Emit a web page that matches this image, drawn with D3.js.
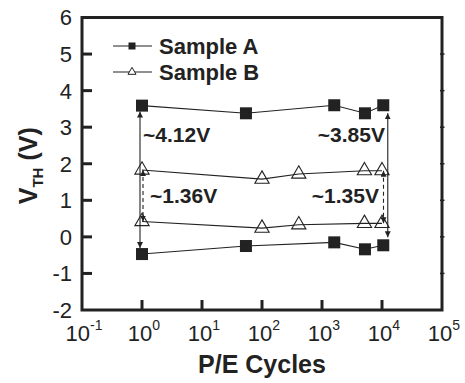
<!DOCTYPE html>
<html>
<head>
<meta charset="utf-8">
<script src="https://cdn.jsdelivr.net/npm/d3@7"></script>
<style>
  body { margin: 0; background: #fff; }
  svg { display: block; font-family: "Liberation Sans", Arial, sans-serif; }
</style>
</head>
<body>
<div id="chart"></div>
<script>
// data
const cyclesA = [1, 54, 1600, 5200, 10500];
const aProgram = [3.59, 3.38, 3.6, 3.38, 3.6];
const aErase = [-0.47, -0.25, -0.15, -0.34, -0.23];

const cyclesB = [1, 100, 410, 5100, 10000];
const bProgram = [1.83, 1.58, 1.72, 1.81, 1.81];
const bErase = [0.42, 0.24, 0.33, 0.37, 0.37];

const seriesNames = ["Sample A", "Sample B"];
const windowLabels = ["~4.12V", "~1.36V", "~3.85V", "~1.35V"];

const yTicks = [-2, -1, 0, 1, 2, 3, 4, 5, 6];
const xExponents = [-1, 0, 1, 2, 3, 4, 5];

const width = 465, height = 383;
const ink = "#222";

const svg = d3.select("#chart")
    .append("svg")
    .attr("width", width)
    .attr("height", height);

// scales
const x = d3.scaleLog()
    .domain([0.1, 1e5])
    .range([82, 442]);

const y = d3.scaleLinear()
    .domain([-2, 6])
    .range([310, 17.5]);

// arrow heads
const defs = svg.append("defs");
defs.append("marker")
    .attr("id", "arrow")
    .attr("viewBox", "0 0 10 10")
    .attr("refX", 10)
    .attr("refY", 5)
    .attr("markerWidth", 6)
    .attr("markerHeight", 6)
    .attr("markerUnits", "userSpaceOnUse")
    .attr("orient", "auto-start-reverse")
    .append("path")
    .attr("d", "M0,0 L10,5 L0,10 z")
    .attr("fill", ink);

// connecting lines
const line = d3.line()
    .x(d => x(d[0]))
    .y(d => y(d[1]));

const curves = [
    d3.zip(cyclesA, aProgram),
    d3.zip(cyclesA, aErase),
    d3.zip(cyclesB, bProgram),
    d3.zip(cyclesB, bErase)
];

svg.append("g")
    .selectAll("path")
    .data(curves)
    .join("path")
    .attr("d", line)
    .attr("fill", "none")
    .attr("stroke", ink)
    .attr("stroke-width", 1.1);

// memory window arrows (drawn from the first / last data points)
const first = 0, last = cyclesA.length - 1;
const arrows = [
    { xv: cyclesA[first], dx: -2, y1: aProgram[first], y2: aErase[first], dash: null, pad: 6 },
    { xv: cyclesB[first], dx: 1, y1: bProgram[first], y2: bErase[first], dash: "4,3", pad: 0 },
    { xv: cyclesA[last], dx: 4.5, y1: aProgram[last], y2: aErase[last], dash: null, pad: 8 },
    { xv: cyclesB[last], dx: 1.5, y1: bProgram[last], y2: bErase[last], dash: "4,3", pad: 0 }
];

svg.append("g")
    .selectAll("line")
    .data(arrows)
    .join("line")
    .attr("x1", d => x(d.xv) + d.dx)
    .attr("x2", d => x(d.xv) + d.dx)
    .attr("y1", d => y(d.y1) + d.pad)
    .attr("y2", d => y(d.y2) - d.pad)
    .attr("stroke", ink)
    .attr("stroke-width", 1.1)
    .attr("stroke-dasharray", d => d.dash)
    .attr("marker-start", "url(#arrow)")
    .attr("marker-end", "url(#arrow)");

// markers
const sq = 12;
const drawSquares = (xs, ys) => {
    svg.append("g")
        .selectAll("rect")
        .data(d3.zip(xs, ys))
        .join("rect")
        .attr("x", d => x(d[0]) - sq / 2)
        .attr("y", d => y(d[1]) - sq / 2)
        .attr("width", sq)
        .attr("height", sq)
        .attr("fill", ink);
};
const tri = d3.symbol().type(d3.symbolTriangle).size(88);
const drawTriangles = (xs, ys) => {
    svg.append("g")
        .selectAll("path")
        .data(d3.zip(xs, ys))
        .join("path")
        .attr("transform", d => `translate(${x(d[0])},${y(d[1])})`)
        .attr("d", tri)
        .attr("fill", "none")
        .attr("stroke", ink)
        .attr("stroke-width", 1.1);
};
drawSquares(cyclesA, aProgram);
drawSquares(cyclesA, aErase);
drawTriangles(cyclesB, bProgram);
drawTriangles(cyclesB, bErase);

// window labels
const labelSpots = [
    { xv: 1, dx: 1, yv: 2.6, anchor: "start" },
    { xv: 1, dx: 8, yv: 0.92, anchor: "start" },
    { xv: 1e4, dx: 3, yv: 2.6, anchor: "end" },
    { xv: 1e4, dx: -3, yv: 0.92, anchor: "end" }
];
svg.append("g")
    .selectAll("text")
    .data(labelSpots)
    .join("text")
    .attr("x", d => x(d.xv) + d.dx)
    .attr("y", d => y(d.yv))
    .attr("text-anchor", d => d.anchor)
    .attr("font-size", 21)
    .attr("font-weight", "bold")
    .attr("fill", ink)
    .text((d, i) => windowLabels[i]);

// frame
const [x0, x1] = x.range();
const [yb, yt] = y.range();
svg.append("rect")
    .attr("x", x0)
    .attr("y", yt)
    .attr("width", x1 - x0)
    .attr("height", yb - yt)
    .attr("fill", "none")
    .attr("stroke", ink)
    .attr("stroke-width", 3);

// y ticks (inward) + labels
svg.append("g")
    .selectAll("line")
    .data(yTicks.slice(1, -1))
    .join("line")
    .attr("x1", x0)
    .attr("x2", x0 + 10)
    .attr("y1", d => y(d))
    .attr("y2", d => y(d))
    .attr("stroke", ink)
    .attr("stroke-width", 3);

svg.append("g")
    .selectAll("line")
    .data(yTicks.slice(1, -1))
    .join("line")
    .attr("x1", x1 - 2)
    .attr("x2", x1 + 2.5)
    .attr("y1", d => y(d))
    .attr("y2", d => y(d))
    .attr("stroke", ink)
    .attr("stroke-width", 1.5);

svg.append("g")
    .selectAll("text")
    .data(yTicks)
    .join("text")
    .attr("x", 72)
    .attr("y", d => y(d))
    .attr("dy", "0.36em")
    .attr("text-anchor", "end")
    .attr("font-size", 22)
    .attr("fill", ink)
    .text(d => d);

// x ticks (inward) + labels
svg.append("g")
    .selectAll("line")
    .data(xExponents.slice(1, -1))
    .join("line")
    .attr("x1", d => x(Math.pow(10, d)))
    .attr("x2", d => x(Math.pow(10, d)))
    .attr("y1", yb)
    .attr("y2", yb - 10)
    .attr("stroke", ink)
    .attr("stroke-width", 3);

const xLabels = svg.append("g")
    .selectAll("text")
    .data(xExponents)
    .join("text")
    .attr("x", d => x(Math.pow(10, d)) + 2)
    .attr("y", 341)
    .attr("text-anchor", "middle")
    .attr("font-size", 22)
    .attr("fill", ink);
xLabels.append("tspan").text("10");
xLabels.append("tspan")
    .attr("dy", -11)
    .attr("font-size", 14)
    .text(d => d);

// axis titles
svg.append("text")
    .attr("x", (x0 + x1) / 2)
    .attr("y", 373)
    .attr("text-anchor", "middle")
    .attr("font-size", 25)
    .attr("font-weight", "bold")
    .attr("fill", ink)
    .text("P/E Cycles");

const yTitle = svg.append("text")
    .attr("transform", `translate(37,${(yb + yt) / 2 + 2}) rotate(-90)`)
    .attr("text-anchor", "middle")
    .attr("font-size", 25)
    .attr("font-weight", "bold")
    .attr("fill", ink);
yTitle.append("tspan").text("V");
yTitle.append("tspan").attr("font-size", 15).attr("dy", 6).text("TH");
yTitle.append("tspan").attr("dy", -6).text(" (V)");

// legend
const legend = svg.append("g");
const legendRows = [46, 72];
legend.selectAll("line")
    .data(seriesNames)
    .join("line")
    .attr("x1", 113)
    .attr("x2", 152)
    .attr("y1", (d, i) => legendRows[i])
    .attr("y2", (d, i) => legendRows[i])
    .attr("stroke", ink)
    .attr("stroke-width", 1.1);
legend.append("rect")
    .attr("x", 132 - 3.5)
    .attr("y", legendRows[0] - 3.5)
    .attr("width", 7)
    .attr("height", 7)
    .attr("fill", ink);
legend.append("path")
    .attr("transform", `translate(132,${legendRows[1]})`)
    .attr("d", d3.symbol().type(d3.symbolTriangle).size(28))
    .attr("fill", "#fff")
    .attr("stroke", ink)
    .attr("stroke-width", 1);
legend.selectAll("text")
    .data(seriesNames)
    .join("text")
    .attr("x", 159)
    .attr("y", (d, i) => legendRows[i])
    .attr("dy", "0.36em")
    .attr("font-size", 22)
    .attr("font-weight", "bold")
    .attr("fill", ink)
    .text(d => d);
</script>
</body>
</html>
